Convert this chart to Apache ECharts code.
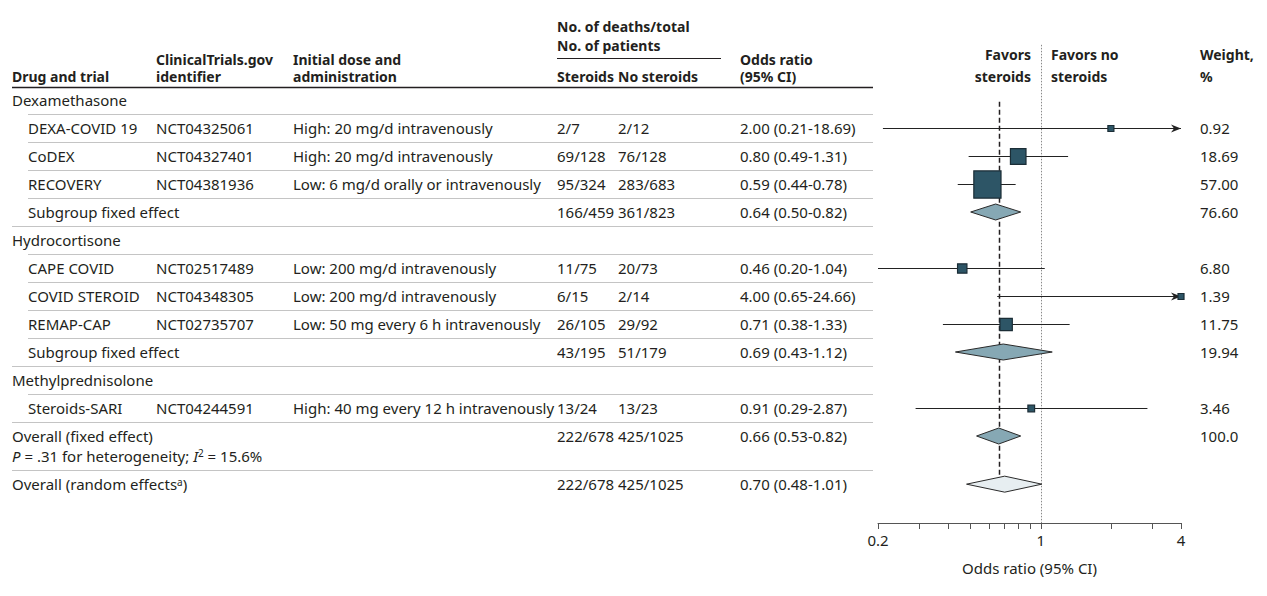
<!DOCTYPE html>
<html><head><meta charset="utf-8">
<script src="https://cdn.jsdelivr.net/npm/echarts@6/dist/echarts.min.js"></script>
<style>html,body{margin:0;padding:0;background:#fff}#c{width:1267px;height:596px}</style>
</head><body><div id="c"></div>
<script>
// ---------------- DATA ----------------
const rowLabels = ['Dexamethasone','DEXA-COVID 19','CoDEX','RECOVERY','Subgroup fixed effect',
  'Hydrocortisone','CAPE COVID','COVID STEROID','REMAP-CAP','Subgroup fixed effect',
  'Methylprednisolone','Steroids-SARI','Overall (fixed effect)','Overall (random effects{sup|a})'];
const rowKind = ['group','study','study','study','sub','group','study','study','study','sub','group','study','overall','random'];
const nctIds = ['','NCT04325061','NCT04327401','NCT04381936','','','NCT02517489','NCT04348305','NCT02735707','','','NCT04244591','',''];
const doses = ['','High: 20 mg/d intravenously','High: 20 mg/d intravenously','Low: 6 mg/d orally or intravenously','','',
  'Low: 200 mg/d intravenously','Low: 200 mg/d intravenously','Low: 50 mg every 6 h intravenously','','',
  'High: 40 mg every 12 h intravenously','',''];
const steroidDeaths = ['','2/7','69/128','95/324','166/459','','11/75','6/15','26/105','43/195','','13/24','222/678','222/678'];
const noSteroidDeaths = ['','2/12','76/128','283/683','361/823','','20/73','2/14','29/92','51/179','','13/23','425/1025','425/1025'];
const oddsRatio = [null,2.00,0.80,0.59,0.64,null,0.46,4.00,0.71,0.69,null,0.91,0.66,0.70];
const ciLower  = [null,0.21,0.49,0.44,0.50,null,0.20,0.65,0.38,0.43,null,0.29,0.53,0.48];
const ciUpper  = [null,18.69,1.31,0.78,0.82,null,1.04,24.66,1.33,1.12,null,2.87,0.82,1.01];
const weights  = [null,0.92,18.69,57.00,76.60,null,6.80,1.39,11.75,19.94,null,3.46,100.0,null];
const heterogeneityText = '{i|P} = .31 for heterogeneity; {i|I}{sup|2} = 15.6%';
const axisTicks = [0.2,0.3,0.4,0.5,0.6,0.7,0.8,0.9,1,2,3,4];
const axisLabels = [0.2,1,4];
const axisRange = [0.2,4];

// ---------------- LAYOUT / STYLE ----------------
const FONT = '"Noto Sans", sans-serif';
const FS = 15, HFS = 14;
const TXT = '#231f20';
const SQ_FILL = '#2d5566', SQ_STROKE = '#1b2d36';
const DIA_FILL = '#86a8b4', RND_FILL = '#e7eef1';
const X_MIN = Math.log(axisRange[0]), X_MAX = Math.log(axisRange[1]);
const ROW0 = 100, STEP = 28, GRID_TOP = 16, AXIS_Y = 523;
const Y_MIN = (GRID_TOP - ROW0) / STEP, Y_MAX = (AXIS_Y - ROW0) / STEP;
const RANDOM_SLOT = 13.72, SUBLINE_OFF = 0.7;
const slotOf = i => rowKind[i] === 'random' ? RANDOM_SLOT : i;
const COL = {group:12, trial:28, nct:156, dose:293, st:557, nst:618, or:740, wt:1200, end:873};
const fmt2 = v => v.toFixed(2);
const fmtW = v => v >= 100 ? v.toFixed(1) : v.toFixed(2);
const richStyles = {
  i: {fontStyle:'italic', fontSize:FS, fontFamily:FONT, fill:TXT},
  sup: {fontSize:10, fontFamily:FONT, fill:TXT, verticalAlign:'top'}
};

function txt(x, y, text, o) {
  o = o || {};
  return {type:'text', x:x, y:y, silent:true, z2:10,
    style:{text:text, fill:TXT, fontSize:o.bold ? HFS : FS, fontFamily:FONT, fontWeight:o.bold ? 'bold' : 'normal',
      align:o.align||'left', verticalAlign:'middle', rich:richStyles}};
}
function hline(x1, x2, y, color, w) {
  return {type:'line', silent:true, shape:{x1:x1, y1:y, x2:x2, y2:y}, style:{stroke:color, lineWidth:w}};
}

const chart = echarts.init(document.getElementById('c'), null, {renderer:'svg'});

// table rows
const tableSeries = {
  type:'custom', name:'table', silent:true, clip:false, z:1,
  data: rowLabels.map((_, i) => [0, slotOf(i), i]),
  encode:{x:0, y:1},
  renderItem(params, api) {
    const i = api.value(2);
    const slot = api.value(1);
    const y = api.coord([0, slot])[1];
    const k = rowKind[i];
    const ch = [];
    const indent = (k === 'study' || k === 'sub');
    ch.push(txt(indent ? COL.trial : COL.group, y, rowLabels[i]));
    if (nctIds[i]) ch.push(txt(COL.nct, y, nctIds[i]));
    if (doses[i]) ch.push(txt(COL.dose, y, doses[i]));
    if (steroidDeaths[i]) ch.push(txt(COL.st, y, steroidDeaths[i]));
    if (noSteroidDeaths[i]) ch.push(txt(COL.nst, y, noSteroidDeaths[i]));
    if (oddsRatio[i] != null) ch.push(txt(COL.or, y, fmt2(oddsRatio[i]) + ' (' + fmt2(ciLower[i]) + '-' + fmt2(ciUpper[i]) + ')'));
    if (weights[i] != null) ch.push(txt(COL.wt, y, fmtW(weights[i])));
    let lastSlot = slot;
    if (k === 'overall') {
      const y2 = api.coord([0, slot + SUBLINE_OFF])[1];
      ch.push(txt(COL.group, y2, heterogeneityText));
      lastSlot = slot + SUBLINE_OFF;
    }
    if (i < rowLabels.length - 1) {
      const ys = api.coord([0, (lastSlot + slotOf(i + 1)) / 2])[1];
      const full = (k === 'sub' || k === 'overall' || (k === 'study' && rowKind[i + 1] === 'overall'));
      ch.push(hline(full ? COL.group : COL.trial, COL.end, Math.round(ys) + 0.5, '#c4c4c4', 1));
    }
    return {type:'group', children:ch};
  }
};

// reference lines (null effect and overall fixed effect)
const refSeries = {
  type:'custom', name:'ref', silent:true, clip:false, z:2,
  data: [[0, -1.97, Y_MAX, 0], [Math.log(oddsRatio[12]), 0.06, RANDOM_SLOT, 1]],
  encode:{x:0, y:1},
  renderItem(params, api) {
    const p1 = api.coord([api.value(0), api.value(1)]);
    const p2 = api.coord([api.value(0), api.value(2)]);
    const dashed = api.value(3) === 1;
    const x = Math.round(p1[0]) + 0.5;
    return {type:'line', shape:{x1:x, y1:p1[1], x2:x, y2:p2[1]},
      style: dashed ? {stroke:'#231f20', lineWidth:1.5, lineDash:[5,3]}
                    : {stroke:'#8a8a8a', lineWidth:1, lineDash:[1.5,1.5]}};
  }
};

// study CIs + squares
const studyIdx = rowKind.map((k, i) => k === 'study' ? i : -1).filter(i => i >= 0);
const studySeries = {
  type:'custom', name:'studies', silent:true, clip:false, z:3,
  data: studyIdx.map(i => [Math.log(oddsRatio[i]), slotOf(i), Math.log(ciLower[i]), Math.log(ciUpper[i]), weights[i]]),
  encode:{x:0, y:1},
  renderItem(params, api) {
    const or = api.value(0), slot = api.value(1), lo = api.value(2), hi = api.value(3), w = api.value(4);
    const c = api.coord([or, slot]);
    const y = Math.round(c[1]) + 0.5;
    const xl = api.coord([Math.max(lo, X_MIN), slot])[0];
    const xh = api.coord([Math.min(hi, X_MAX), slot])[0];
    const ch = [{type:'line', shape:{x1:xl, y1:y, x2:xh, y2:y}, style:{stroke:'#222', lineWidth:1}}];
    if (hi > X_MAX) {
      ch.push({type:'polygon', shape:{points:[[xh, y], [xh - 10, y - 4], [xh - 7, y], [xh - 10, y + 4]]}, style:{fill:'#222'}});
    }
    const s = Math.max(6, 3.6 * Math.sqrt(w));
    ch.push({type:'rect', shape:{x:c[0] - s / 2, y:y - s / 2, width:s, height:s}, style:{fill:SQ_FILL, stroke:SQ_STROKE, lineWidth:1.2}});
    return {type:'group', children:ch};
  }
};

// pooled diamonds
const poolIdx = rowKind.map((k, i) => (k === 'sub' || k === 'overall' || k === 'random') ? i : -1).filter(i => i >= 0);
const diamondSeries = {
  type:'custom', name:'pooled', silent:true, clip:false, z:4,
  data: poolIdx.map(i => [Math.log(oddsRatio[i]), slotOf(i), Math.log(ciLower[i]), Math.log(ciUpper[i]), rowKind[i] === 'random' ? 1 : 0]),
  encode:{x:0, y:1},
  renderItem(params, api) {
    const or = api.value(0), slot = api.value(1), lo = api.value(2), hi = api.value(3);
    const c = api.coord([or, slot]);
    const xl = api.coord([lo, slot])[0], xh = api.coord([hi, slot])[0];
    const h = 8;
    return {type:'polygon', shape:{points:[[xl, c[1]], [c[0], c[1] - h], [xh, c[1]], [c[0], c[1] + h]]},
      style:{fill: api.value(4) === 1 ? RND_FILL : DIA_FILL, stroke:'#2a2a2a', lineWidth:1}};
  }
};

const HL1 = 54, HLC = 59, HL2 = 76;
const headerGraphic = [
  txt(COL.st, 26, 'No. of deaths/total', {bold:true}),
  txt(COL.st, 45, 'No. of patients', {bold:true}),
  hline(COL.st, 721, 58.5, TXT, 1),
  txt(COL.nct, HLC, 'ClinicalTrials.gov', {bold:true}),
  txt(COL.dose, HLC, 'Initial dose and', {bold:true}),
  txt(COL.or, HLC, 'Odds ratio', {bold:true}),
  txt(COL.group, HL2, 'Drug and trial', {bold:true}),
  txt(COL.nct, HL2, 'identifier', {bold:true}),
  txt(COL.dose, HL2, 'administration', {bold:true}),
  txt(COL.st, HL2, 'Steroids', {bold:true}),
  txt(COL.nst, HL2, 'No steroids', {bold:true}),
  txt(COL.or, HL2, '(95% CI)', {bold:true}),
  txt(1031, HL1, 'Favors', {bold:true, align:'right'}),
  txt(1031, HL2, 'steroids', {bold:true, align:'right'}),
  txt(1051, HL1, 'Favors no', {bold:true}),
  txt(1051, HL2, 'steroids', {bold:true}),
  txt(COL.wt, HL1, 'Weight,', {bold:true}),
  txt(COL.wt, HL2, '%', {bold:true}),
  hline(COL.group, COL.end, 87.5, TXT, 1.5)
];

chart.setOption({
  animation:false,
  grid:{left:878, right:86, top:GRID_TOP, bottom:596 - AXIS_Y},
  xAxis:{
    type:'value', min:X_MIN, max:X_MAX,
    axisLine:{show:true, onZero:false, lineStyle:{color:'#555', width:1}},
    axisTick:{show:true, customValues:axisTicks.map(Math.log), length:6, inside:false, lineStyle:{color:'#555', width:1}},
    axisLabel:{show:true, customValues:axisLabels.map(Math.log), showMinLabel:true, showMaxLabel:true,
      formatter:v => String(Number(Math.exp(v).toFixed(1))), color:TXT, fontSize:FS, fontFamily:FONT, margin:9},
    splitLine:{show:false},
    name:'Odds ratio (95% CI)', nameLocation:'middle', nameGap:37,
    nameTextStyle:{color:TXT, fontSize:FS, fontFamily:FONT}
  },
  yAxis:{type:'value', inverse:true, min:Y_MIN, max:Y_MAX, show:false},
  graphic:headerGraphic,
  series:[tableSeries, refSeries, studySeries, diamondSeries]
});
</script></body></html>
